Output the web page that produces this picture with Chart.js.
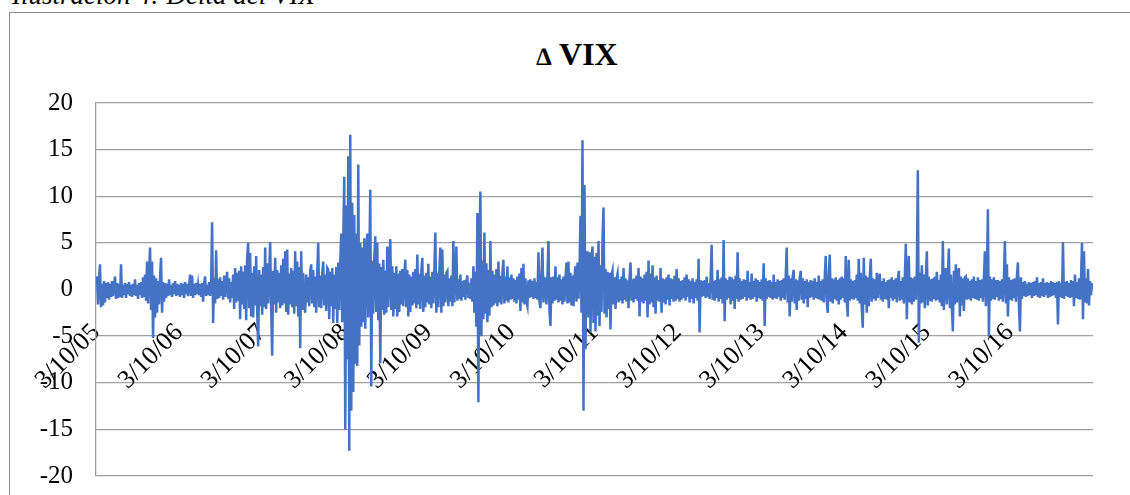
<!DOCTYPE html>
<html>
<head>
<meta charset="utf-8">
<script src="https://cdn.jsdelivr.net/npm/chart.js@4/dist/chart.umd.min.js"></script>
<style>
  html, body { margin: 0; padding: 0; background: #fff; }
  body { width: 1130px; height: 495px; overflow: hidden; position: relative; }
  #caption {
    position: absolute; left: 12px; top: -18px;
    font: italic 27px/27px "Liberation Serif", "Times New Roman", serif;
    color: #000; white-space: nowrap;
  }
  #frame {
    position: absolute; left: 9px; top: 12px; width: 1300px; height: 700px;
    border: 1.3px solid #8c8c8c; box-sizing: border-box;
  }
  #title {
    position: absolute; left: 477px; width: 200px; top: 38px; text-align: center;
    font: bold 32px/32px "Liberation Serif", "Times New Roman", serif;
    color: #000; white-space: nowrap;
  }
  #title .delta { font-size: 25px; font-weight: bold; }
  #chart { position: absolute; left: 0; top: 0; }
</style>
</head>
<body>
<div id="caption">Ilustración 4: Delta del VIX</div>
<div id="frame"></div>
<div id="title"><span class="delta">∆</span> VIX</div>
<canvas id="chart" width="1130" height="495"></canvas>
<script>
// Year labels on the horizontal axis (one per year, starting 3/10/05)
const yearLabels = ['3/10/05', '3/10/06', '3/10/07', '3/10/08', '3/10/09', '3/10/10',
                    '3/10/11', '3/10/12', '3/10/13', '3/10/14', '3/10/15', '3/10/16'];

// Daily change of the VIX, one block per year (March to March)
const d2005 = [0.5,1.4,-1.6,1.2,2.7,-1.9,0.6,-1.7,0.9,-1.4,
  0.7,-0.9,0.8,-1.1,0.6,-0.8,0.9,-0.7,0.5,1.4,
  -1.0,0.7,-0.9,0.6,-0.8,2.7,-0.9,0.5,-0.6,0.7,
  -0.9,0.6,-0.5,0.8,-0.7,0.5,-0.8,0.6,-0.6,1.1,
  -0.7,0.5,-1.0,0.7,-0.6,0.8,-0.9,1.3,-0.8,1.6,
  -1.2,3.0,-1.5,1.9,4.5,-2.2,3.0,-5.2,1.5,-3.0,
  1.2,-2.5,0.9,-1.6,1.4,3.4,-2.5,0.8,-1.3,0.7,
  -0.9,0.6,-0.7,1.1,-0.6,0.5,-0.8,0.7,-0.5,0.9,
  -0.7,0.6,-0.6];
const d2006 = [0.5,-0.8,0.7,-0.6,0.6,-0.9,0.8,-0.5,0.6,-0.7,
  0.5,1.6,-0.7,1.5,-0.9,0.6,-0.6,0.7,-0.5,0.5,
  -0.6,0.6,-0.8,0.7,-1.3,0.6,1.4,-0.7,0.5,-0.6,
  0.8,-0.7,1.0,7.2,-3.6,1.2,-1.5,4.2,-1.0,1.1,
  -0.9,1.3,-0.7,0.9,-1.1,1.5,-0.8,0.7,1.9,-1.0,
  1.2,-1.4,0.8,-0.9,1.6,-2.1,2.3,-1.4,1.8,-1.2,
  2.0,-3.2,2.5,-1.6,1.9,-2.1,2.6,-3.3,3.4,5.0,
  -2.0,3.9,-2.9,1.8,-3.0,2.5,-1.7,3.6,-2.2,-6.1,
  2.1,-1.8,1.6];
const d2007 = [-2.7,2.4,-1.9,4.5,-2.1,2.8,-1.5,1.9,5.1,-2.2,
  -7.1,2.0,-1.6,3.4,-2.5,2.1,-1.4,1.8,-2.0,2.6,
  -1.7,3.3,-1.5,4.1,-2.4,4.3,-2.7,1.7,-1.6,2.3,
  -1.9,2.0,-2.6,4.1,-1.8,3.0,-2.9,2.4,-6.3,4.1,
  -2.2,1.8,-1.6,-2.5,1.6,-1.4,1.3,-1.8,2.0,2.7,
  -1.5,2.1,-1.9,1.4,-2.5,1.7,5.0,-1.9,1.5,-2.0,
  1.8,3.0,-1.7,1.6,-2.3,2.3,2.1,-3.2,1.9,-1.8,
  2.3,-3.6,1.6,-2.1,2.4,-3.6,2.9,-2.2,3.0,6.0,
  -3.5,5.5,12.1];
const d2008 = [-15.0,9.0,-7.5,14.3,-17.3,16.6,-13.0,9.3,-11.0,8.0,
  -8.0,6.0,-8.2,13.4,-6.0,5.0,-4.0,4.5,-3.5,5.5,
  -4.2,3.6,6.0,-3.0,2.7,10.7,-10.4,3.1,-2.6,3.4,
  5.7,-2.4,5.0,-3.3,2.8,-7.9,2.4,-2.2,3.2,-2.7,
  2.0,-2.5,4.6,-1.9,2.3,5.4,-2.2,2.5,-2.9,1.8,
  -2.1,2.5,-2.9,1.7,-2.4,2.0,-1.6,2.2,-1.8,1.5,
  3.2,-1.9,2.1,-2.9,1.6,-2.4,1.4,-1.7,1.9,-1.5,
  2.2,-2.0,3.75,-1.6,1.7,-2.1,2.0,3.4,-2.4,1.5,
  -1.9,1.8,-1.4];
const d2009 = [2.75,-1.6,1.4,-2.0,1.9,-1.5,2.2,6.1,-2.5,1.8,
  -1.9,2.1,4.5,-2.5,4.3,-1.8,1.6,-1.4,1.8,2.0,
  -1.8,1.2,-1.3,1.5,-1.8,5.2,-1.4,1.3,4.6,-1.2,
  1.1,-1.0,1.6,-1.2,0.9,-0.8,1.0,-1.1,0.8,1.5,
  -0.9,0.7,-1.0,1.2,-1.3,2.5,-2.5,1.9,-4.0,8.2,
  -12.1,4.5,10.5,-5.0,3.1,-3.2,6.1,-2.6,2.8,-3.5,
  2.1,-2.8,5.2,-1.9,2.0,-1.7,1.6,-1.5,2.2,-1.8,
  3.0,-1.4,1.5,-1.6,1.8,3.2,-1.5,1.4,-1.2,2.5,
  -1.4,1.3,-1.1];
const d2010 = [1.6,-1.0,1.2,-1.3,1.0,-1.5,1.4,-1.1,1.7,-2.3,
  2.3,-1.4,2.75,-1.6,1.2,-1.3,-1.8,1.0,-0.9,1.1,
  -0.8,0.9,-1.0,1.2,-0.9,0.8,-1.1,4.0,-1.3,-2.0,
  1.5,4.5,-1.4,1.2,1.1,-1.6,1.5,5.2,-2.2,-3.9,
  1.3,-1.5,1.4,-1.2,2.5,-1.1,1.3,-1.4,1.6,-1.2,
  1.1,-1.6,1.4,-1.3,1.2,2.9,-1.5,3.0,-1.4,1.8,
  -1.7,1.5,-1.8,1.4,2.5,-1.3,2.9,-1.0,2.0,7.9,
  -2.5,16.0,-13.0,11.2,-6.4,3.5,4.1,-3.0,4.0,-4.6,
  3.2,4.6,-3.6];
const d2011 = [3.5,-4.5,3.9,-2.8,5.2,-3.9,2.6,-2.4,5.5,8.8,
  -2.6,2.2,-3.0,1.9,-2.1,1.8,-4.3,1.5,2.0,-1.6,
  1.3,-2.1,1.2,1.7,-1.4,1.1,-1.2,1.4,-1.5,2.3,
  -1.1,1.2,-1.3,1.0,-2.0,1.3,2.9,-1.2,1.1,-1.4,
  1.2,-1.0,1.5,-1.2,2.3,-2.9,1.4,-1.3,1.2,-1.5,
  1.6,-1.2,1.9,-3.0,3.1,-1.6,1.7,-1.4,2.6,-1.9,
  1.3,-2.6,1.5,-1.2,1.0,-1.3,2.3,-2.5,1.2,-1.4,
  1.1,-1.6,1.3,-1.1,1.6,-1.7,1.2,-1.0,1.1,-1.3,
  1.5,-1.2,2.2];
const d2012 = [-1.0,1.2,-1.3,0.9,-1.1,1.0,-0.9,1.3,-1.2,1.6,
  -0.8,1.1,-1.4,0.9,-1.0,1.2,-1.5,0.8,-0.9,1.1,
  -1.2,3.3,-4.6,1.0,-0.8,0.9,-0.7,1.0,-0.9,1.4,
  -0.8,0.7,-1.0,1.2,4.8,-1.1,0.9,-1.2,1.0,-0.9,
  2.1,-1.3,1.1,-1.0,1.3,-1.5,5.3,-3.4,1.2,-1.1,
  1.0,-0.9,1.4,-1.6,1.3,-1.2,1.1,-2.1,1.5,-1.0,
  4.0,-1.3,1.2,-1.1,0.9,-1.0,1.1,-0.8,1.0,-1.2,
  2.0,-0.9,0.8,-1.1,1.7,-1.0,0.9,-0.8,1.2,-1.3,
  1.0,-0.9,0.8];
const d2013 = [-1.0,1.1,-1.2,2.8,-3.9,1.2,-1.0,0.9,-0.8,1.0,
  -0.9,0.8,-1.1,1.6,-0.9,0.8,-1.0,1.1,-0.8,0.9,
  -1.2,1.0,-0.9,1.2,-1.1,1.3,4.5,-1.4,1.5,-2.9,
  1.2,-1.3,1.4,2.1,-1.5,1.1,-2.2,1.0,-1.2,1.3,
  2.0,-1.1,1.2,-1.5,0.9,-1.0,1.1,-1.9,0.8,-0.9,
  1.0,-0.8,0.9,-1.1,1.2,-0.9,0.8,-1.0,1.5,-1.1,
  0.9,-1.2,1.1,-1.4,1.3,3.6,-1.2,-2.5,1.4,3.75,
  -1.3,1.2,-1.5,1.1,-1.0,1.3,-1.2,1.0,-1.6,1.2,
  -1.1,1.4,-0.9];
const d2014 = [1.2,-1.4,3.6,-1.3,-2.9,3.2,-1.2,1.1,-1.0,0.9,
  -1.1,1.0,-0.9,1.6,-1.2,3.3,-1.5,1.8,-2.0,-4.1,
  3.4,-1.6,1.5,-2.5,1.3,-1.8,1.4,3.3,-1.3,1.2,
  -1.0,1.1,-1.2,1.8,-0.9,1.0,1.7,-1.1,0.9,-1.3,
  1.2,-1.0,0.8,-1.1,1.0,-2.0,1.1,-0.9,1.3,-1.2,
  1.0,-1.0,1.2,-1.4,1.1,2.0,-1.2,0.9,-1.1,1.3,
  -1.5,1.2,4.9,-3.2,1.5,3.6,-1.4,1.3,-1.6,1.2,
  -1.3,1.4,-1.1,2.0,12.8,-5.7,1.8,-1.5,2.6,-1.4,
  1.6,-2.0,1.3];
const d2015 = [4.1,-1.7,1.4,-1.2,1.1,-1.3,1.2,-1.0,1.4,-1.2,
  1.9,-1.1,1.0,-1.4,1.6,-1.8,5.2,-2.2,1.5,2.3,
  -1.6,1.4,4.4,-2.0,1.6,-1.9,-4.5,2.0,-1.6,2.7,
  -1.4,1.5,2.3,-2.9,1.4,-1.7,1.2,-2.3,1.3,1.4,
  -1.1,1.2,-1.0,0.9,-1.2,1.1,-0.9,1.4,-1.0,0.9,
  -1.1,1.3,-1.2,1.0,-0.9,1.1,-1.3,1.2,4.1,-1.8,
  1.6,8.6,-5.0,1.4,-1.2,1.1,-1.0,1.3,-1.1,1.0,
  -0.8,1.0,-1.2,0.9,-1.0,1.1,-1.3,1.2,5.2,-1.5,
  2.7,-2.9,1.3];
const d2016 = [-1.1,1.0,-1.2,1.1,-0.9,1.2,-1.3,1.4,2.9,-1.6,
  -4.5,1.3,-1.0,0.8,-0.7,0.9,-0.8,0.6,-0.7,0.8,
  -0.6,0.7,-0.9,0.8,-0.7,0.9,-0.6,1.3,-0.8,0.7,
  -0.9,0.8,-0.7,1.2,-0.8,0.7,-0.6,0.8,-0.9,0.7,
  -0.8,0.9,-0.7,0.8,-0.6,0.7,-0.9,0.8,-3.75,0.9,
  -0.8,0.7,-0.9,5.1,-1.0,0.8,-0.7,0.9,-0.8,0.7,
  -0.9,1.0,-0.8,0.9,-1.8,1.6,-0.9,0.8,-1.0,1.2,
  -1.1,1.0,5.0,-3.2,4.1,-1.4,1.2,-1.5,2.2,-1.7,
  0.9,-0.6,0.7];

const years = [d2005, d2006, d2007, d2008, d2009, d2010,
               d2011, d2012, d2013, d2014, d2015, d2016];

// Each year block is spread evenly over one unit of the x scale
const points = [];
years.forEach((block, yi) => {
  block.forEach((v, j) => points.push({ x: yi + j / block.length, y: v }));
});

const serif = '"Liberation Serif", "Times New Roman", serif';

new Chart(document.getElementById('chart'), {
  type: 'line',
  data: {
    datasets: [{
      data: points,
      borderColor: '#4472C4',
      borderWidth: 2.5,
      pointRadius: 0,
      tension: 0,
      fill: false
    }]
  },
  options: {
    responsive: false,
    animation: false,
    events: [],
    layout: { padding: { top: 103, right: 37, bottom: 18, left: 0 } },
    plugins: { legend: { display: false }, title: { display: false }, tooltip: { enabled: false } },
    scales: {
      x: {
        type: 'linear',
        min: 0,
        max: 12,
        position: { y: 0 },
        grid: { display: false },
        border: { display: false },
        // one labelled tick per year; no tick at the closing edge
        afterBuildTicks: (scale) => {
          scale.ticks = scale.ticks.filter((t) => t.value < yearLabels.length);
        },
        ticks: {
          stepSize: 1,
          autoSkip: false,
          minRotation: 45,
          maxRotation: 45,
          padding: 20,
          color: '#000',
          font: { family: serif, size: 26 },
          callback: (v) => yearLabels[v] ?? ''
        }
      },
      y: {
        min: -20,
        max: 20,
        afterFit: (scale) => { scale.width = 96; },
        grid: { color: '#a0a0a0', lineWidth: 1.3, drawTicks: true, tickLength: 19, tickColor: 'rgba(0,0,0,0)' },
        border: { display: true, color: '#a0a0a0', width: 1.3 },
        ticks: {
          stepSize: 5,
          padding: 4,
          color: '#000',
          font: { family: serif, size: 25 }
        }
      }
    }
  }
});
</script>
</body>
</html>
